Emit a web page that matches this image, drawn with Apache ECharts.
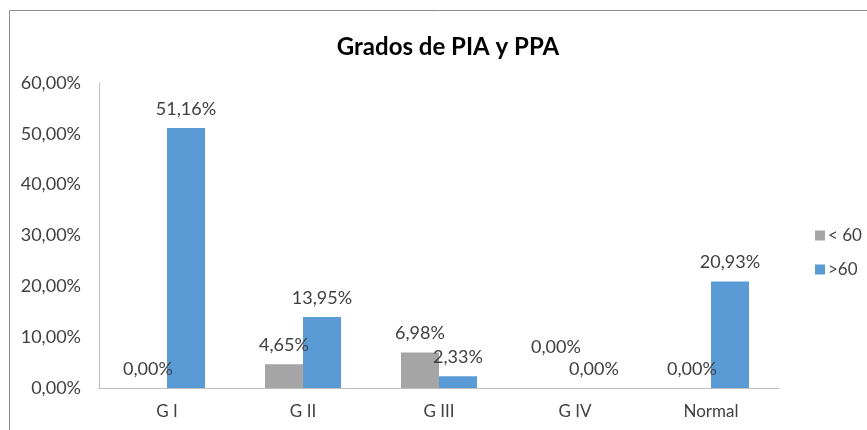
<!DOCTYPE html>
<html>
<head>
<meta charset="utf-8">
<script src="https://cdn.jsdelivr.net/npm/echarts@6/dist/echarts.min.js"></script>
<style>
html, body { margin: 0; padding: 0; background: #fff; }
#chart { width: 867px; height: 430px; }
</style>
</head>
<body>
<div id="chart"></div>
<script>
// categorías y valores (en %)
var categories = ['G I', 'G II', 'G III', 'G IV', 'Normal'];
var menos60 = [0.00, 4.65, 6.98, 0.00, 0.00];
var mas60 = [51.16, 13.95, 2.33, 0.00, 20.93];
var yTicks = [0, 10, 20, 30, 40, 50, 60];

var fontFam = 'Lato, "Open Sans", sans-serif';

function pct(v) {
    return v.toFixed(2).replace('.', ',') + '%';
}

// la etiqueta del G IV (< 60) está desplazada hacia arriba en el original
var menos60Data = menos60.map(function (v, i) {
    if (categories[i] === 'G IV') {
        return { value: v, label: { offset: [0, -22] } };
    }
    return v;
});

var labelStyle = {
    show: true,
    position: 'top',
    distance: 10,
    color: '#404040',
    fontSize: 18,
    fontFamily: fontFam,
    formatter: function (p) { return pct(p.value); }
};

var chart = echarts.init(document.getElementById('chart'));

var option = {
    backgroundColor: '#fff',
    animation: false,
    title: {
        text: 'Grados de PIA y PPA',
        left: 443,
        textAlign: 'center',
        top: 30,
        textStyle: {
            fontFamily: fontFam,
            fontWeight: 'bold',
            fontSize: 24,
            color: '#000'
        }
    },
    graphic: [
        {
            type: 'rect',
            shape: { x: 9.5, y: 10.5, width: 900, height: 500 },
            style: { fill: 'none', stroke: '#8c8c8c', lineWidth: 1 },
            silent: true
        }
    ],
    legend: {
        orient: 'vertical',
        left: 810,
        top: 222,
        itemWidth: 10,
        itemHeight: 10,
        itemGap: 17,
        icon: 'rect',
        textStyle: { fontFamily: fontFam, fontSize: 17, color: '#404040', padding: [0, 0, 0, -2] },
        data: ['< 60', '>60']
    },
    grid: {
        left: 99,
        right: 88,
        top: 83,
        bottom: 42,
        containLabel: false
    },
    xAxis: {
        type: 'category',
        data: categories,
        axisTick: { show: false },
        axisLine: { lineStyle: { color: '#bfbfbf', width: 1 } },
        axisLabel: { margin: 15, fontFamily: fontFam, fontSize: 17, color: '#404040' }
    },
    yAxis: {
        type: 'value',
        min: yTicks[0],
        max: yTicks[yTicks.length - 1],
        interval: 10,
        splitLine: { show: false },
        axisTick: { show: false },
        axisLine: { show: true, lineStyle: { color: '#bfbfbf', width: 1 } },
        axisLabel: {
            margin: 18,
            fontFamily: fontFam,
            fontSize: 18,
            color: '#404040',
            formatter: function (v) { return pct(v); }
        }
    },
    series: [
        {
            name: '< 60',
            type: 'bar',
            data: menos60Data,
            barWidth: 38,
            barGap: '0%',
            itemStyle: { color: '#a5a5a5' },
            label: labelStyle
        },
        {
            name: '>60',
            type: 'bar',
            data: mas60,
            barWidth: 38,
            barGap: '0%',
            itemStyle: { color: '#5b9bd5' },
            label: labelStyle
        }
    ]
};

chart.setOption(option);
</script>
</body>
</html>
